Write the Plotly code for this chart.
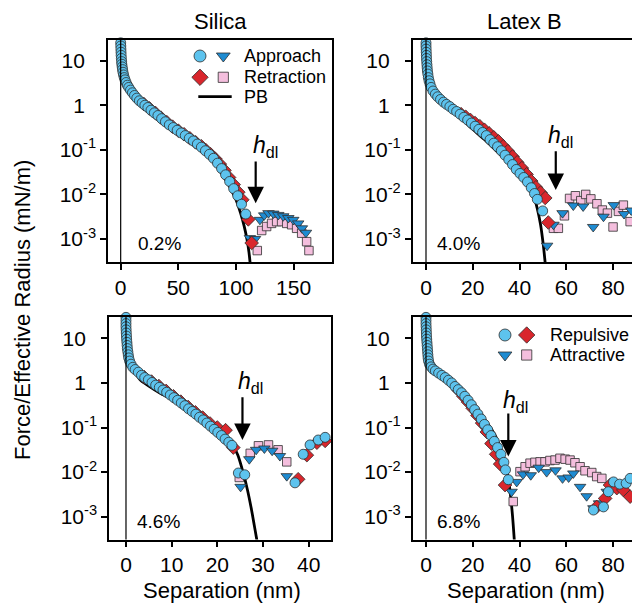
import plotly.graph_objects as go

W, H = 632, 606
FONT = "Liberation Sans, Arial, Helvetica, sans-serif"

# ---------------- data: separation (nm) and log10 of F/R (mN/m) ----------------
# Silica, 0.2 %
si_app_rep_x = [0, 0, 0.1, 0.2, 0.3, 0.4, 0.6, 0.8, 1.0, 1.3, 1.6, 2.0, 2.5, 3.1, 3.8, 4.7, 5.8, 7.0, 8.5, 10.2,
                12.0, 14.0, 16.2, 18.6, 21.0, 23.6, 26.3, 29.2, 32.3, 35.5, 38.8, 42.2, 45.6, 49.0, 52.5, 56.0, 59.5,
                63.0, 66.5, 70.0, 73.5, 77.0, 80.5, 84.0, 87.5, 91.0, 94.5, 98.0, 101.5, 104.8, 108.5]
si_app_rep_lg = [1.47, 1.40, 1.33, 1.26, 1.19, 1.12, 1.05, 0.98, 0.92, 0.86, 0.80, 0.74, 0.68, 0.62, 0.57, 0.51, 0.45,
                 0.40, 0.34, 0.28, 0.22, 0.16, 0.10, 0.05, 0.00, -0.05, -0.11, -0.17, -0.23, -0.30, -0.37, -0.44,
                 -0.50, -0.56, -0.62, -0.68, -0.74, -0.80, -0.87, -0.94, -1.02, -1.10, -1.19, -1.30, -1.42, -1.56,
                 -1.71, -1.87, -2.03, -2.22, -2.44]
si_ret_rep_x = [20, 25, 30, 35, 40, 45, 50, 55, 60, 65, 70, 74, 78, 82, 86, 90, 94, 98, 102, 105.5, 110.7, 113.6]
si_ret_rep_lg = [0.03, -0.07, -0.17, -0.28, -0.38, -0.48, -0.57, -0.65, -0.74, -0.83, -0.92, -1.01, -1.10, -1.20,
                 -1.32, -1.46, -1.62, -1.78, -1.95, -2.12, -2.56, -3.09]
si_app_att_x = [112.1, 116.5, 120.8, 124.5, 128.2, 132.4, 136.7, 141.0, 145.4, 149.7, 154.0, 157.2, 160.7]
si_app_att_lg = [-2.98, -3.00, -2.57, -2.47, -2.42, -2.43, -2.46, -2.49, -2.53, -2.57, -2.65, -2.76, -2.86]
si_ret_att_x = [118.5, 122.3, 126.6, 130.9, 135.3, 139.6, 144.0, 148.3, 152.6, 157.0, 161.3, 163.3]
si_ret_att_lg = [-3.26, -2.81, -2.72, -2.65, -2.61, -2.61, -2.65, -2.68, -2.76, -2.87, -3.06, -3.26]
si_pb_x = [0, 0.3, 0.8, 1.5, 2.5, 4, 6, 9, 13, 18, 25, 32, 40, 50, 60, 70, 80, 88, 95, 100, 104, 107, 109.5,
           111.3, 112.5]
si_pb_lg = [1.47, 1.20, 0.95, 0.78, 0.62, 0.50, 0.38, 0.22, 0.10, -0.01, -0.14, -0.27, -0.42, -0.61, -0.79, -0.99,
            -1.24, -1.55, -1.85, -2.12, -2.42, -2.70, -3.00, -3.30, -3.60]

# Latex B, 4.0 %
lb_app_rep_x = [0, 0, 0, 0.05, 0.1, 0.15, 0.2, 0.3, 0.4, 0.5, 0.6, 0.8, 1.0, 1.3, 1.7, 2.2, 3.0, 4.0, 5.0, 6.2,
                7.5, 8.8, 10.2, 11.6, 13.1, 14.6, 16.2, 17.8, 19.4, 21.0, 22.6, 24.2, 25.8, 27.4, 29.0, 30.6, 32.2,
                33.8, 35.4, 37.0, 38.6, 40.2, 41.8, 43.4, 45.0, 46.4, 47.6, 49.9]
lb_app_rep_lg = [1.47, 1.40, 1.33, 1.26, 1.19, 1.12, 1.05, 0.98, 0.91, 0.84, 0.77, 0.70, 0.62, 0.55, 0.48, 0.40,
                 0.32, 0.25, 0.19, 0.13, 0.07, 0.02, -0.03, -0.09, -0.14, -0.20, -0.27, -0.33, -0.40, -0.47, -0.54,
                 -0.61, -0.68, -0.77, -0.85, -0.93, -1.02, -1.12, -1.22, -1.33, -1.44, -1.53, -1.62, -1.72, -1.85,
                 -1.98, -2.11, -2.37]
lb_ret_rep_x = [15, 17, 19, 21, 23, 25, 27, 29, 31, 33, 35, 37, 39, 41, 43, 45, 47, 49, 51, 52.3]
lb_ret_rep_lg = [-0.20, -0.26, -0.33, -0.40, -0.47, -0.55, -0.63, -0.72, -0.81, -0.92, -1.03, -1.15, -1.28, -1.41,
                 -1.55, -1.70, -1.84, -1.96, -2.08, -2.63]
lb_app_att_x = [51.8, 54.5, 58.4, 63.0, 67.2, 71.5, 75.9, 80.3, 84.7, 87.8]
lb_app_att_lg = [-3.15, -2.68, -2.42, -2.25, -2.27, -2.73, -2.50, -2.24, -2.44, -2.36]
lb_ret_att_x = [54.5, 56.6, 59.2, 61.4, 63.9, 66.2, 68.3, 70.5, 73.1, 75.4, 77.6, 80.0, 82.3, 84.4, 87.3]
lb_ret_att_lg = [-2.76, -2.76, -2.48, -2.09, -2.03, -2.14, -2.00, -2.10, -2.21, -2.35, -2.42, -2.73, -2.38, -2.24,
                 -2.61]
lb_pb_x = [0, 0.2, 0.5, 1.0, 2, 4, 6, 10, 15, 20, 25, 30, 35, 40, 43, 45.5, 47.5, 49, 50.2, 51.0]
lb_pb_lg = [1.47, 1.10, 0.80, 0.55, 0.35, 0.18, 0.07, -0.10, -0.30, -0.54, -0.77, -1.02, -1.27, -1.52, -1.70,
            -1.93, -2.30, -2.68, -3.15, -3.55]

# Silica, 4.6 %
s2_app_rep_x = [0, 0, 0, 0, 0.03, 0.06, 0.1, 0.14, 0.2, 0.25, 0.3, 0.4, 0.5, 0.6, 0.8, 1.1, 1.5, 2.0, 2.7, 3.4,
                4.1, 4.9, 5.7, 6.5, 7.3, 8.1, 8.9, 9.7, 10.5, 11.3, 12.1, 12.9, 13.7, 14.5, 15.3, 16.1, 16.9, 17.7,
                18.5, 19.3, 20.1, 20.9, 21.7, 22.5, 23.2, 24.6, 26.0, 37.0, 38.8, 40.3, 42.1, 43.6]
s2_app_rep_lg = [1.47, 1.40, 1.33, 1.26, 1.19, 1.12, 1.05, 0.98, 0.91, 0.84, 0.77, 0.70, 0.63, 0.56, 0.49, 0.42,
                 0.35, 0.30, 0.24, 0.17, 0.12, 0.07, 0.01, -0.05, -0.10, -0.16, -0.21, -0.27, -0.33, -0.39, -0.45,
                 -0.51, -0.58, -0.64, -0.70, -0.77, -0.83, -0.90, -0.97, -1.04, -1.11, -1.18, -1.26, -1.33, -1.40,
                 -2.02, -2.06, -2.24, -1.60, -1.39, -1.28, -1.22]
s2_ret_rep_x = [4.0, 5.6, 7.2, 8.8, 10.4, 12.0, 13.6, 15.2, 16.8, 18.4, 20.0, 21.8, 23.5, 37.7, 39.6, 41.8, 43.6]
s2_ret_rep_lg = [0.13, 0.03, -0.07, -0.18, -0.30, -0.42, -0.54, -0.66, -0.78, -0.91, -1.00, -1.06, -1.45, -2.16,
                 -1.62, -1.34, -1.30]
s2_app_att_x = [25.1, 27.0, 28.5, 30.3, 32.0, 33.7, 35.2]
s2_app_att_lg = [-2.33, -1.71, -1.50, -1.47, -1.52, -1.64, -2.09]
s2_ret_att_x = [24.8, 27.2, 29.0, 31.2, 33.3, 35.2]
s2_ret_att_lg = [-2.12, -1.58, -1.41, -1.39, -1.50, -1.77]
s2_pb_x = [0, 0.1, 0.3, 0.6, 1.0, 2, 3.1, 5, 7.5, 10.4, 14, 17.7, 20, 22, 23.5, 24.5, 25.7, 26.6, 27.4, 28.1, 28.7]
s2_pb_lg = [1.47, 1.15, 0.85, 0.60, 0.45, 0.25, 0.07, -0.07, -0.23, -0.38, -0.63, -0.90, -1.05, -1.22, -1.42,
            -1.62, -2.03, -2.40, -2.80, -3.20, -3.55]

# Latex B, 6.8 %
l2_app_rep_x = [0, 0, 0, 0.05, 0.1, 0.15, 0.2, 0.3, 0.4, 0.5, 0.6, 0.7, 0.8, 0.9, 1.1, 1.5, 2.2, 3.0, 4.0, 5.4,
                6.8, 8.2, 9.6, 11.0, 12.4, 13.8, 15.2, 16.6, 18.0, 19.4, 20.8, 22.2, 23.6, 25.0, 26.4, 27.8, 29.2,
                30.6, 32.0, 33.3, 34.0, 35.2, 71.6, 75.9, 78.0, 80.2, 82.8, 85.6, 87.3]
l2_app_rep_lg = [1.47, 1.40, 1.33, 1.26, 1.19, 1.12, 1.05, 0.98, 0.91, 0.84, 0.77, 0.70, 0.63, 0.56, 0.49, 0.42,
                 0.36, 0.31, 0.27, 0.22, 0.17, 0.12, 0.06, 0.00, -0.08, -0.15, -0.22, -0.30, -0.39, -0.49, -0.60,
                 -0.70, -0.81, -0.93, -1.05, -1.18, -1.31, -1.45, -1.60, -1.78, -1.95, -2.17, -2.85, -2.78, -2.44,
                 -2.22, -2.27, -2.25, -2.14]
l2_ret_rep_x = [14, 16, 18, 20, 22, 24, 26, 28, 30, 31.7, 33.8, 73.0, 76.6, 78.7, 81.6, 84.4, 87.3]
l2_ret_rep_lg = [-0.17, -0.30, -0.43, -0.57, -0.73, -0.90, -1.10, -1.36, -1.60, -1.82, -2.29, -2.78, -2.59, -2.29,
                 -2.36, -2.40, -2.55]
l2_app_att_x = [36.6, 38.8, 41.5, 44.8, 48.2, 51.6, 55.4, 58.4, 61.0, 63.0, 65.9, 68.7, 71.6, 74.0, 77.3]
l2_app_att_lg = [-2.44, -2.22, -2.05, -2.07, -1.90, -2.00, -1.96, -2.14, -2.12, -2.03, -2.33, -2.54, -2.81, -2.70,
                 -2.44]
l2_ret_att_x = [37.3, 40.2, 42.4, 44.5, 46.6, 48.8, 50.9, 53.0, 55.2, 57.3, 59.5, 61.6, 63.7, 65.9, 68.0, 70.9,
                73.0, 75.2]
l2_ret_att_lg = [-2.66, -1.99, -1.88, -1.80, -1.78, -1.77, -1.77, -1.74, -1.73, -1.69, -1.71, -1.73, -1.79, -1.88,
                 -1.97, -2.01, -2.10, -2.14]
l2_pb_x = [0, 0.1, 0.3, 0.6, 1.0, 2.0, 3.1, 6, 9, 13.1, 17, 20, 24.5, 28, 30, 31.7, 33.2, 34.5, 35.5, 36.2, 37.0,
           37.8]
l2_pb_lg = [1.47, 1.15, 0.85, 0.62, 0.47, 0.34, 0.25, 0.12, 0.0, -0.20, -0.38, -0.52, -0.78, -1.04, -1.22, -1.43,
            -1.66, -1.95, -2.25, -2.55, -2.98, -3.55]

panel_titles = ["Silica", "Latex B"]
panel_labels = ["0.2%", "4.0%", "4.6%", "6.8%"]
hdl_x = [117.1, 55.5, 25.5, 35.2]              # position of the h_dl arrow (nm)
hdl_lg_tail = [-1.23, -1.00, -0.29, -0.65]     # arrow tail, log10(F/R)
hdl_lg_head = [-2.20, -1.90, -1.28, -1.65]     # arrow head, log10(F/R)
x_ticks = [[0, 50, 100, 150], [0, 20, 40, 60, 80], [0, 10, 20, 30, 40], [0, 20, 40, 60, 80]]
y_tickvals = [10, 1, 0.1, 0.01, 0.001]
PAD = "<sup>\u2007\u2009</sup>"   # keeps plain labels aligned with the base of the powers of ten
y_ticktext = ["10" + PAD, "1" + PAD, "10<sup>-1</sup>", "10<sup>-2</sup>", "10<sup>-3</sup>"]

# ---------------- styles ----------------
C_CIR, C_TRI, C_DIA, C_SQ = "#5DC3EE", "#1E8BD1", "#D9262C", "#F4BEDD"
EDGE = "#2f2f2f"
MK = {
    "cir": dict(symbol="circle", size=10, color=C_CIR, line=dict(color=EDGE, width=0.8)),
    "tri": dict(symbol="triangle-down", size=10, color=C_TRI, line=dict(color=EDGE, width=0.8)),
    "dia": dict(symbol="diamond", size=10.5, color=C_DIA, line=dict(color=EDGE, width=0.8)),
    "sq": dict(symbol="square", size=8.5, color=C_SQ, line=dict(color=EDGE, width=0.8)),
}


def lin(lg):
    return [10 ** v for v in lg]


panels = [
    dict(data=[(si_pb_x, si_pb_lg), (si_ret_att_x, si_ret_att_lg), (si_app_att_x, si_app_att_lg),
               (si_ret_rep_x, si_ret_rep_lg), (si_app_rep_x, si_app_rep_lg)],
         xd=[108 / W, 332 / W], yd=[1 - 262 / H, 1 - 40 / H], xr=[-11.0, 183.3], yr=[-3.516, 1.464], right=False),
    dict(data=[(lb_pb_x, lb_pb_lg), (lb_ret_att_x, lb_ret_att_lg), (lb_app_att_x, lb_app_att_lg),
               (lb_ret_rep_x, lb_ret_rep_lg), (lb_app_rep_x, lb_app_rep_lg)],
         xd=[412.7 / W, 1.0], yd=[1 - 262 / H, 1 - 40 / H], xr=[-5.69, 88.1], yr=[-3.516, 1.464], right=True),
    dict(data=[(s2_pb_x, s2_pb_lg), (s2_ret_att_x, s2_ret_att_lg), (s2_app_att_x, s2_app_att_lg),
               (s2_ret_rep_x, s2_ret_rep_lg), (s2_app_rep_x, s2_app_rep_lg)],
         xd=[109 / W, 330.7 / W], yd=[1 - 539.5 / H, 1 - 317 / H], xr=[-3.72, 44.82], yr=[-3.511, 1.478],
         right=False),
    dict(data=[(l2_pb_x, l2_pb_lg), (l2_ret_att_x, l2_ret_att_lg), (l2_app_att_x, l2_app_att_lg),
               (l2_ret_rep_x, l2_ret_rep_lg), (l2_app_rep_x, l2_app_rep_lg)],
         xd=[412.7 / W, 1.0], yd=[1 - 539.5 / H, 1 - 317 / H], xr=[-5.69, 88.1], yr=[-3.511, 1.478], right=True),
]

fig = go.Figure()
layout = dict(width=W, height=H, margin=dict(l=0, r=0, t=0, b=0), paper_bgcolor="white",
              plot_bgcolor="rgba(0,0,0,0)", showlegend=False, font=dict(family=FONT, color="black"))
shapes, annotations = [], []

for i, p in enumerate(panels):
    n = "" if i == 0 else str(i + 1)
    xa, ya = "x" + n, "y" + n
    (pbx, pby), (sqx, sqy), (trx, try_), (dix, diy), (cix, ciy) = p["data"]
    fig.add_trace(go.Scatter(x=pbx, y=lin(pby), mode="lines", xaxis=xa, yaxis=ya, cliponaxis=True,
                             line=dict(color="black", width=2.8, shape="spline", smoothing=0.8)))
    for (xx, yy, key) in [(sqx, sqy, "sq"), (trx, try_, "tri"), (dix, diy, "dia"), (cix, ciy, "cir")]:
        fig.add_trace(go.Scatter(x=xx, y=lin(yy), mode="markers", xaxis=xa, yaxis=ya, cliponaxis=False,
                                 marker=MK[key]))
    axis_common = dict(showline=True, linecolor="black", linewidth=1.5, ticks="outside", ticklen=6,
                       tickwidth=1.5, tickcolor="black", showgrid=False, zeroline=False,
                       tickfont=dict(family=FONT, size=21, color="black"))
    layout["xaxis" + n] = dict(domain=p["xd"], range=p["xr"], anchor=ya, tickvals=x_ticks[i], mirror=True,
                               **axis_common)
    layout["yaxis" + n] = dict(domain=p["yd"], range=p["yr"], anchor=xa, type="log", tickvals=y_tickvals,
                               ticktext=y_ticktext, mirror=not p["right"], **axis_common)
    # hard wall at zero separation
    shapes.append(dict(type="line", xref=xa, yref=ya + " domain", x0=0, x1=0, y0=0, y1=1,
                       line=dict(color="black", width=1.2)))
    # h_dl arrow + label
    annotations.append(dict(xref=xa, yref=ya, axref=xa, ayref=ya, x=hdl_x[i], y=hdl_lg_head[i],
                            ax=hdl_x[i], ay=hdl_lg_tail[i], text="", showarrow=True, arrowhead=2,
                            arrowsize=1.5, arrowwidth=2.2, arrowcolor="black"))

# ---------------- text (paper coordinates from pixel positions) ----------------
def P(x, y):
    return x / W, 1 - y / H


def txt(x, y, s, size, xanchor="center", yanchor="middle", angle=0):
    px, py = P(x, y)
    annotations.append(dict(xref="paper", yref="paper", x=px, y=py, text=s, showarrow=False,
                            xanchor=xanchor, yanchor=yanchor, textangle=angle,
                            font=dict(family=FONT, size=size, color="black")))


txt(220, 22, panel_titles[0], 22)
txt(524.7, 22, panel_titles[1], 22)
txt(222, 590, "Separation (nm)", 22)
txt(526, 590, "Separation (nm)", 22)
txt(22, 310, "Force/Effective Radius (mN/m)", 22, angle=-90)
txt(135.5, 243, panel_labels[0], 19, xanchor="left")
txt(435, 243, panel_labels[1], 19, xanchor="left")
txt(135, 521, panel_labels[2], 19, xanchor="left")
txt(435, 521, panel_labels[3], 19, xanchor="left")
hdl = "<i>h</i><sub>dl</sub>"
txt(251, 146, hdl, 23, xanchor="left")
txt(546, 136, hdl, 23, xanchor="left")
txt(236, 382, hdl, 23, xanchor="left")
txt(501, 401, hdl, 23, xanchor="left")
# legend texts
txt(241.7, 56, "Approach", 18, xanchor="left")
txt(241.7, 77.3, "Retraction", 18, xanchor="left")
txt(241.7, 96.7, "PB", 18, xanchor="left")
txt(548.3, 335, "Repulsive", 18, xanchor="left")
txt(548.3, 355, "Attractive", 18, xanchor="left")

# ---------------- legend keys on a full-figure pixel overlay ----------------
leg_keys = [("cir", 200, 56), ("tri", 223.3, 56), ("dia", 200, 77.3), ("sq", 223.3, 77.3),
            ("cir", 505, 335), ("dia", 526.7, 335), ("tri", 505, 355), ("sq", 526.7, 355)]
for key, lx, ly in leg_keys:
    mk = dict(MK[key])
    mk["size"] = mk["size"] * 1.2
    fig.add_trace(go.Scatter(x=[lx], y=[ly], mode="markers", xaxis="x5", yaxis="y5", cliponaxis=False,
                             marker=mk))
fig.add_trace(go.Scatter(x=[198.3, 231.7], y=[96.7, 96.7], mode="lines", xaxis="x5", yaxis="y5",
                         line=dict(color="black", width=2.8)))
layout["xaxis5"] = dict(domain=[0, 1], range=[0, W], anchor="y5", visible=False, fixedrange=True)
layout["yaxis5"] = dict(domain=[0, 1], range=[H, 0], anchor="x5", visible=False, fixedrange=True)

layout["shapes"] = shapes
layout["annotations"] = annotations
fig.update_layout(**layout)
fig.write_html("out.html")
